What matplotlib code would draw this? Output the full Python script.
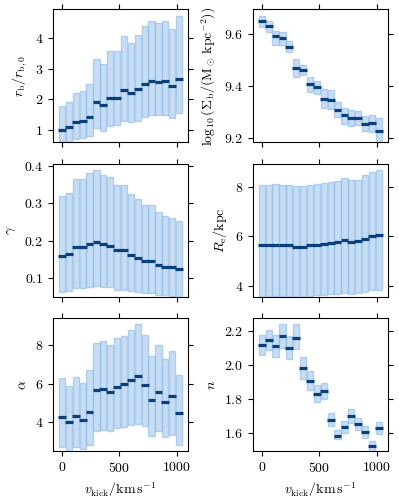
import numpy as np
import matplotlib
matplotlib.use('Agg')
import matplotlib.pyplot as plt

plt.rcParams.update({
    'font.family': 'serif',
    'font.serif': ['cmr10'],
    'mathtext.fontset': 'cm',
    'axes.formatter.use_mathtext': True,
    'font.size': 10,
    'axes.linewidth': 0.8,
    'xtick.top': True,
    'ytick.right': True,
    'xtick.direction': 'out',
    'ytick.direction': 'out',
})

# kick velocity bins (km/s)
vkick = np.arange(0, 1021, 60)

# r_b / r_b,0
rb_lo = [0.58, 0.61, 0.68, 0.73, 0.78, 1.05, 0.97, 1.13, 1.16, 1.30, 1.24, 1.30, 1.41, 1.47, 1.47, 1.47, 1.39, 1.55]
rb_med = [0.99, 1.08, 1.25, 1.30, 1.41, 1.90, 1.80, 2.03, 2.03, 2.30, 2.19, 2.33, 2.50, 2.59, 2.57, 2.59, 2.44, 2.68]
rb_hi = [1.78, 1.91, 2.20, 2.28, 2.50, 3.33, 3.17, 3.57, 3.57, 4.08, 3.86, 4.10, 4.39, 4.57, 4.52, 4.57, 4.31, 4.74]

# log10 Sigma_b
sig_lo = [9.627, 9.607, 9.560, 9.560, 9.530, 9.436, 9.442, 9.376, 9.370, 9.316, 9.312, 9.281, 9.254, 9.243, 9.248, 9.224, 9.222, 9.181]
sig_med = [9.650, 9.630, 9.592, 9.587, 9.552, 9.470, 9.462, 9.408, 9.395, 9.349, 9.345, 9.307, 9.286, 9.276, 9.275, 9.254, 9.256, 9.227]
sig_hi = [9.671, 9.651, 9.613, 9.607, 9.573, 9.503, 9.482, 9.433, 9.420, 9.386, 9.383, 9.338, 9.316, 9.305, 9.302, 9.285, 9.288, 9.275]

# gamma
gam_lo = [0.065, 0.067, 0.074, 0.074, 0.077, 0.079, 0.078, 0.076, 0.070, 0.070, 0.067, 0.063, 0.061, 0.061, 0.057, 0.056, 0.054, 0.051]
gam_med = [0.159, 0.165, 0.184, 0.184, 0.193, 0.197, 0.193, 0.187, 0.175, 0.175, 0.163, 0.154, 0.147, 0.147, 0.137, 0.131, 0.130, 0.124]
gam_hi = [0.321, 0.329, 0.364, 0.364, 0.380, 0.389, 0.377, 0.370, 0.348, 0.348, 0.326, 0.312, 0.296, 0.296, 0.276, 0.267, 0.261, 0.252]

# R_e / kpc
re_lo = [3.58, 3.58, 3.59, 3.58, 3.58, 3.55, 3.55, 3.58, 3.61, 3.62, 3.65, 3.66, 3.69, 3.68, 3.71, 3.76, 3.82, 3.83]
re_med = [5.64, 5.64, 5.66, 5.66, 5.65, 5.59, 5.58, 5.64, 5.66, 5.69, 5.73, 5.76, 5.85, 5.79, 5.80, 5.90, 6.01, 6.06]
re_hi = [8.10, 8.10, 8.13, 8.10, 8.08, 8.03, 8.03, 8.10, 8.13, 8.15, 8.20, 8.24, 8.38, 8.27, 8.29, 8.48, 8.62, 8.69]

# alpha
al_lo = [2.70, 2.48, 2.70, 2.59, 2.82, 3.55, 3.57, 3.51, 3.69, 3.75, 3.82, 3.91, 3.78, 3.28, 3.51, 3.20, 3.33, 2.82]
al_med = [4.27, 3.98, 4.31, 4.13, 4.54, 5.65, 5.70, 5.57, 5.85, 5.98, 6.18, 6.41, 5.94, 5.14, 5.56, 5.03, 5.34, 4.49]
al_hi = [6.28, 5.86, 6.35, 6.06, 6.70, 8.13, 8.24, 8.00, 8.38, 8.52, 8.81, 9.10, 8.54, 7.44, 8.00, 7.29, 7.71, 6.48]

# Sersic n
n_lo = [2.057, 2.088, 2.047, 2.096, 2.033, 2.092, 1.914, 1.853, 1.778, 1.796, 1.639, 1.561, 1.598, 1.655, 1.614, 1.567, 1.492, 1.592]
n_med = [2.118, 2.143, 2.110, 2.167, 2.098, 2.157, 1.980, 1.906, 1.827, 1.845, 1.676, 1.582, 1.635, 1.698, 1.651, 1.604, 1.522, 1.629]
n_hi = [2.173, 2.204, 2.173, 2.237, 2.169, 2.237, 2.047, 1.965, 1.880, 1.894, 1.714, 1.614, 1.669, 1.737, 1.688, 1.639, 1.553, 1.663]

panels = [
    (rb_lo, rb_med, rb_hi, r'$r_\mathrm{b}/r_\mathrm{b,0}$', [1, 2, 3, 4]),
    (sig_lo, sig_med, sig_hi, r'$\log_{10}(\Sigma_\mathrm{b}/(\mathrm{M}_\odot\,\mathrm{kpc}^{-2}))$', [9.2, 9.4, 9.6]),
    (gam_lo, gam_med, gam_hi, r'$\gamma$', [0.1, 0.2, 0.3, 0.4]),
    (re_lo, re_med, re_hi, r'$R_\mathrm{e}/\mathrm{kpc}$', [4, 6, 8]),
    (al_lo, al_med, al_hi, r'$\alpha$', [4, 6, 8]),
    (n_lo, n_med, n_hi, r'$n$', [1.6, 1.8, 2.0, 2.2]),
]

box_face = '#aacbef'
box_edge = '#92bdea'
med_col = '#0a3f7a'

fig, axes = plt.subplots(3, 2, figsize=(3.99, 4.99), dpi=100, sharex=True)
fig.subplots_adjust(left=0.133, right=0.972, bottom=0.096, top=0.981, wspace=0.48, hspace=0.16)

for ax, (lo, med, hi, label, yt) in zip(axes.flat, panels):
    lo = np.array(lo)
    hi = np.array(hi)
    ax.bar(vkick, hi - lo, bottom=lo, width=54, color=box_face, alpha=0.65,
           edgecolor=box_edge, linewidth=1.0)
    ax.hlines(med, vkick - 34, vkick + 34, color=med_col, lw=2.3, capstyle='butt')
    ax.set_ylabel(label)
    ax.set_yticks(yt)
    ax.set_xticks([0, 500, 1000])
    ax.set_xlim(-78, 1098)

for ax in axes[-1]:
    ax.set_xlabel(r'$v_\mathrm{kick}/\mathrm{km\,s^{-1}}$')

plt.savefig('out.png', dpi=100)
